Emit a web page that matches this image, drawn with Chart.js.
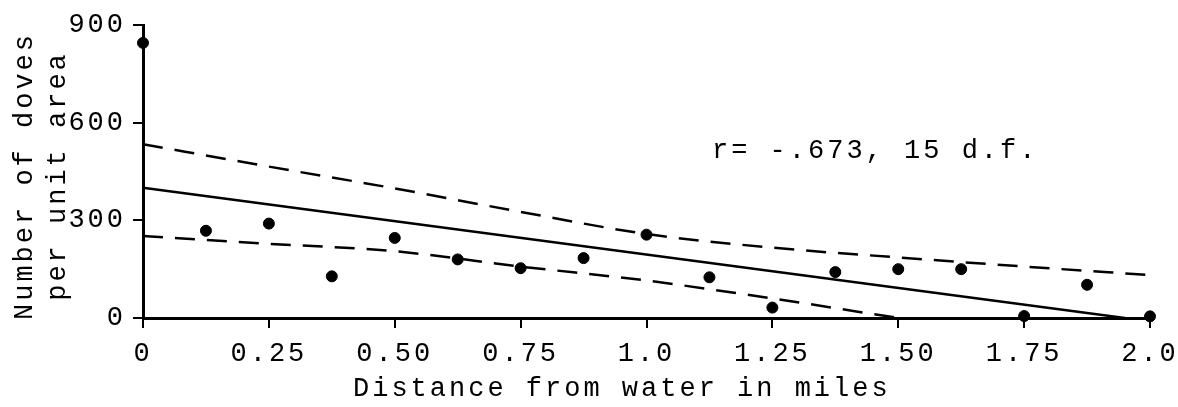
<!DOCTYPE html>
<html>
<head>
<meta charset="utf-8">
<title>Doves vs distance from water</title>
<script src="https://cdn.jsdelivr.net/npm/chart.js@4.4.1/dist/chart.umd.min.js"></script>
<style>
  html, body { margin: 0; padding: 0; background: #fff; }
  #wrap { width: 1178px; height: 407px; }
</style>
</head>
<body>
<div id="wrap"><canvas id="doveChart" width="1178" height="407"></canvas></div>
<script>
// observed counts, one every 1/8 mile
const distances = [0, 0.125, 0.25, 0.375, 0.5, 0.625, 0.75, 0.875, 1.0,
                   1.125, 1.25, 1.375, 1.5, 1.625, 1.75, 1.875, 2.0];
const doves = [845, 268, 290, 128, 246, 180, 153, 184, 256,
               125, 32, 141, 150, 150, 6, 102, 5];

// regression line and the two dashed limits
const fitX = [0, 1.95];
const fitY = [400, 0];
const upperX = [0, 0.25, 0.5, 0.75, 1.0, 1.25, 1.5, 1.75, 2.0];
const upperY = [534, 465, 398, 326, 258, 216, 186, 158, 132];
const lowerX = [0, 0.25, 0.5, 0.75, 1.0, 1.25, 1.5];
const lowerY = [252, 228, 205, 158, 115, 60, 0];

const xTickLabels = ['0', '0.25', '0.50', '0.75', '1.0', '1.25', '1.50', '1.75', '2.0'];
const yTickValues = [0, 300, 600, 900];

const xTitle = 'Distance from water in miles';
const yTitle = ['Number of doves', 'per unit area'];
const note = 'r= -.673, 15 d.f.';

const FONT = '"Liberation Mono", "DejaVu Sans Mono", monospace';

function toPoints(xs, ys) {
    return xs.map((x, i) => ({ x: x, y: ys[i] }));
}

// typewriter look: wide letter spacing, plus the hand-placed labels
const typewriterText = {
    id: 'typewriterText',
    beforeDraw(chart) {
        chart.ctx.letterSpacing = '3px';
    },
    afterDraw(chart) {
        const ctx = chart.ctx;
        ctx.save();
        ctx.fillStyle = '#000';
        ctx.font = '27px ' + FONT;
        ctx.letterSpacing = '3px';
        ctx.textBaseline = 'alphabetic';

        ctx.textAlign = 'left';
        ctx.fillText(note, 712, 158);
        ctx.fillText(xTitle, 353, 396);

        ctx.textAlign = 'center';
        [32, 65].forEach((bx, i) => {
            ctx.save();
            ctx.translate(bx, 176);
            ctx.rotate(-Math.PI / 2);
            ctx.fillText(yTitle[i], 0, 0);
            ctx.restore();
        });
        ctx.restore();
    }
};

const lineStyle = {
    borderColor: '#000',
    borderWidth: 2.5,
    pointRadius: 0,
    fill: false,
    showLine: true,
    clip: false
};

new Chart(document.getElementById('doveChart'), {
    type: 'scatter',
    data: {
        datasets: [
            {
                label: 'Doves',
                data: toPoints(distances, doves),
                backgroundColor: '#000',
                borderColor: '#000',
                pointRadius: 5.5,
                pointHoverRadius: 5.5,
                clip: false
            },
            Object.assign({ label: 'Fit', data: toPoints(fitX, fitY) }, lineStyle),
            Object.assign({ label: 'Upper', data: toPoints(upperX, upperY),
                            borderDash: [20, 12], cubicInterpolationMode: 'monotone' }, lineStyle),
            Object.assign({ label: 'Lower', data: toPoints(lowerX, lowerY),
                            borderDash: [20, 12], cubicInterpolationMode: 'monotone' }, lineStyle)
        ]
    },
    options: {
        responsive: false,
        animation: false,
        layout: { padding: { top: 25, right: 28, left: 0, bottom: 0 } },
        plugins: {
            legend: { display: false },
            tooltip: { enabled: false }
        },
        scales: {
            x: {
                type: 'linear',
                min: 0,
                max: 2,
                afterFit(scale) {
                    scale.height = 89;
                    // keep the end labels from squeezing the plot area
                    scale.paddingLeft = 0;
                    scale.paddingRight = 0;
                },
                border: { display: true, color: '#000', width: 3 },
                grid: { drawOnChartArea: false, drawTicks: true, tickLength: 10, color: '#000', lineWidth: 2 },
                ticks: {
                    stepSize: 0.25,
                    padding: 10,
                    color: '#000',
                    font: { family: FONT, size: 27 },
                    maxRotation: 0,
                    autoSkip: false,
                    callback: (v, i) => xTickLabels[i]
                }
            },
            y: {
                min: 0,
                max: 900,
                afterFit(scale) { scale.width = 143; },
                afterBuildTicks(scale) { scale.ticks = yTickValues.map(v => ({ value: v })); },
                border: { display: true, color: '#000', width: 3 },
                grid: { drawOnChartArea: false, drawTicks: true, tickLength: 10, color: '#000', lineWidth: 2 },
                ticks: {
                    padding: 7,
                    color: '#000',
                    font: { family: FONT, size: 27 },
                    callback: v => String(v)
                }
            }
        }
    },
    plugins: [typewriterText]
});
</script>
</body>
</html>
